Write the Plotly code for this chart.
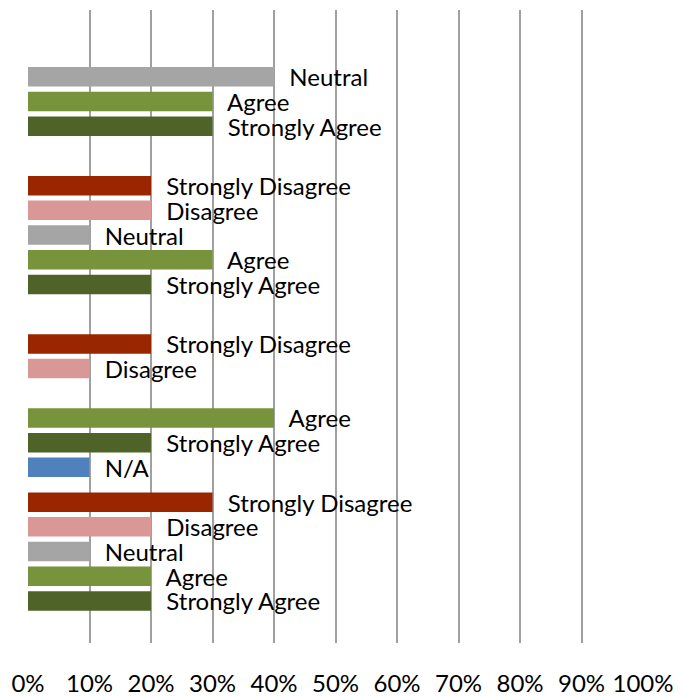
import plotly.graph_objects as go

# Categories (bottom to top on the chart)
categories = ["Q4", "Q3", "Q2", "Q1"]

# Series (trace order = bottom to top within each cluster)
series_names = ["N/A", "Strongly Agree", "Agree", "Neutral", "Disagree", "Strongly Disagree"]
na_vals = [0, 10, 0, 0]
strongly_agree = [20, 20, 20, 30]
agree = [20, 40, 30, 30]
neutral = [10, 0, 10, 40]
disagree = [20, 10, 20, 0]
strongly_disagree = [30, 20, 20, 0]

colors = ["#4F81BD", "#4F6228", "#77933C", "#A5A5A5", "#D99795", "#9A2600"]
values = [na_vals, strongly_agree, agree, neutral, disagree, strongly_disagree]

ticks = list(range(0, 101, 10))
tick_labels = [f"{t}%" for t in ticks]

FONT = "Lato"
pad = "\u00a0\u00a0"

fig = go.Figure()
for name, vals, col in zip(series_names, values, colors):
    fig.add_trace(go.Bar(
        y=categories, x=vals, name=name, orientation="h",
        marker=dict(color=col, line=dict(width=0)),
        text=[(pad + name) if v > 0 else "" for v in vals],
        textposition="outside",
        constraintext="none",
        cliponaxis=False,
        textfont=dict(family=FONT, size=24, color="black"),
        hoverinfo="skip",
    ))

# page body has an 8px default margin, so the figure is 8px smaller
fig.update_layout(
    width=676, height=688,
    margin=dict(l=20, r=41, t=2, b=53),
    barmode="group",
    bargap=0.064,
    bargroupgap=0.21,
    showlegend=False,
    plot_bgcolor="white",
    paper_bgcolor="white",
    font=dict(family=FONT, size=24, color="black"),
)
fig.update_xaxes(
    range=[0, 100], tickvals=ticks, ticktext=tick_labels,
    showgrid=True, gridcolor="#A0A0A0", gridwidth=2,
    zeroline=False, showline=False, automargin=False,
    ticks="", ticklabelstandoff=24,
    tickfont=dict(family=FONT, size=24, color="black"),
)
fig.update_yaxes(
    categoryorder="array", categoryarray=categories,
    showticklabels=False, showgrid=False, zeroline=False, showline=False,
    automargin=False,
)

fig.write_html("out.html")
